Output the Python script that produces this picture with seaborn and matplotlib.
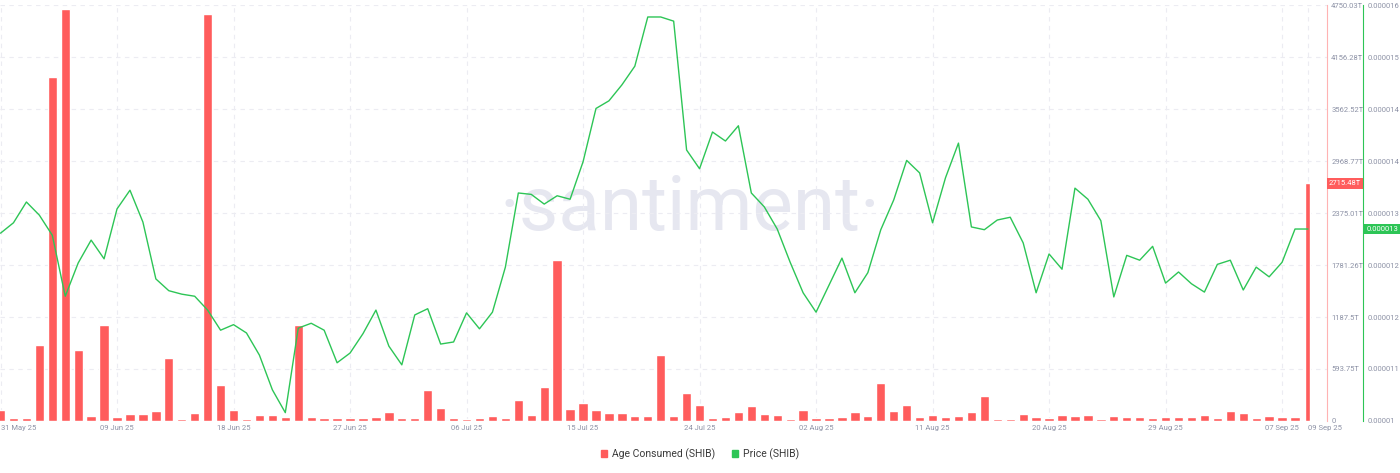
import numpy as np
import pandas as pd
import matplotlib
matplotlib.use("Agg")
import matplotlib.pyplot as plt
import matplotlib.dates as mdates
from matplotlib.patches import Patch
import seaborn as sns


# DATA

start_date = "2025-05-31"
end_date = "2025-09-09"

# Age Consumed (SHIB), trillions, one value per day
age_consumed = [
    125, 30, 30, 864, 3928, 4706, 810, 57, 1096, 46, 80, 80, 110, 723, 19, 88,
    4645, 411, 126, 19, 65, 65, 46, 1092, 42, 38, 34, 34, 30, 42, 103, 30, 38,
    350, 145, 38, 19, 34, 53, 34, 240, 65, 388, 1838, 141, 209, 122, 95, 88,
    57, 57, 757, 57, 316, 186, 34, 42, 103, 175, 84, 65, 23, 130, 34, 34, 42,
    103, 61, 434, 114, 183, 42, 69, 50, 61, 103, 280, 27, 19, 76, 42, 34, 65,
    53, 65, 27, 53, 42, 42, 38, 42, 42, 42, 65, 30, 110, 88, 30, 53, 42, 42,
    2715.48,
]

# Price (SHIB), USD
price = [
    12.71e-6, 12.86e-6, 13.16e-6, 12.97e-6, 12.68e-6, 11.80e-6, 12.28e-6, 12.61e-6,
    12.34e-6, 13.06e-6, 13.33e-6, 12.87e-6, 12.05e-6, 11.88e-6, 11.83e-6, 11.80e-6,
    11.60e-6, 11.31e-6, 11.39e-6, 11.27e-6, 10.95e-6, 10.45e-6, 10.12e-6, 11.34e-6,
    11.41e-6, 11.31e-6, 10.84e-6, 10.98e-6, 11.26e-6, 11.60e-6, 11.08e-6, 10.81e-6,
    11.53e-6, 11.62e-6, 11.11e-6, 11.14e-6, 11.56e-6, 11.33e-6, 11.57e-6, 12.22e-6,
    13.29e-6, 13.27e-6, 13.13e-6, 13.25e-6, 13.20e-6, 13.74e-6, 14.51e-6, 14.62e-6,
    14.85e-6, 15.12e-6, 15.83e-6, 15.83e-6, 15.77e-6, 13.91e-6, 13.64e-6, 14.17e-6,
    14.04e-6, 14.26e-6, 13.29e-6, 13.09e-6, 12.77e-6, 12.29e-6, 11.85e-6, 11.57e-6,
    11.96e-6, 12.35e-6, 11.85e-6, 12.14e-6, 12.76e-6, 13.19e-6, 13.76e-6, 13.58e-6,
    12.86e-6, 13.51e-6, 14.01e-6, 12.80e-6, 12.76e-6, 12.90e-6, 12.94e-6, 12.57e-6,
    11.85e-6, 12.41e-6, 12.19e-6, 13.36e-6, 13.20e-6, 12.89e-6, 11.79e-6, 12.39e-6,
    12.32e-6, 12.52e-6, 11.99e-6, 12.15e-6, 11.98e-6, 11.86e-6, 12.26e-6, 12.32e-6,
    11.89e-6, 12.22e-6, 12.08e-6, 12.29e-6, 12.77e-6, 12.77e-6,
]

x_tick_dates = [
    "2025-05-31", "2025-06-09", "2025-06-18", "2025-06-27", "2025-07-06",
    "2025-07-15", "2025-07-24", "2025-08-02", "2025-08-11", "2025-08-20",
    "2025-08-29", "2025-09-07", "2025-09-09",
]

age_max = 4750.03
age_tick_labels = ["0", "593.75T", "1187.5T", "1781.26T", "2375.01T",
                   "2968.77T", "3562.52T", "4156.28T", "4750.03T"]

price_min = 0.00001
price_max = 0.000016
price_tick_labels = ["0.00001", "0.000011", "0.000012", "0.000012", "0.000013",
                     "0.000014", "0.000014", "0.000015", "0.000016"]

last_age_label = "2715.48T"
last_price_label = "0.000013"


# STYLE

RED = "#ff5c5c"
RED_AXIS = "#ffb3b3"
GREEN = "#2dc556"
TICK_COLOR = "#8d92a6"
GRID_COLOR = "#ececf2"
TICK_SIZE = 5.5

sns.set_theme(style="white")
plt.rcParams['font.family'] = ['Roboto', 'DejaVu Sans']

dates = pd.date_range(start_date, end_date, freq="D")
df = pd.DataFrame({
    "day": mdates.date2num(dates),
    "age": age_consumed,
    "price": price,
})


# FIGURE

fig = plt.figure(figsize=(14, 4.73), dpi=100)
ax = fig.add_axes([0.0, 0.110, 1327 / 1400, 0.879])
ax2 = ax.twinx()

# watermark behind everything
fig.text(0.493, 1 - 230 / 473, "·santiment·", fontsize=55, color="#e6e7f0",
         ha="center", va="baseline", zorder=0)
ax.set_zorder(1)
ax2.set_zorder(2)
ax.patch.set_alpha(0)
ax2.patch.set_alpha(0)

sns.barplot(data=df, x="day", y="age", native_scale=True, width=0.72,
            color=RED, saturation=1, ax=ax, zorder=2)

# last day is a partial bar
last_bar = ax.patches[-1]
w = last_bar.get_width()
last_bar.set_x(last_bar.get_x() + w * 0.22)
last_bar.set_width(w * 0.45)

sns.lineplot(data=df, x="day", y="price", color=GREEN, linewidth=1.0, ax=ax2)

# X AXIS

x_ticks = mdates.date2num(pd.to_datetime(x_tick_dates))
ax.set_xlim(df["day"].iloc[0] - 0.04, df["day"].iloc[-1] + 1.47)
ax.set_xticks(x_ticks)
ax.set_xticklabels([pd.Timestamp(d).strftime("%d %b %y") for d in x_tick_dates])
ax.tick_params(axis="x", length=0, pad=3, labelsize=TICK_SIZE, labelcolor=TICK_COLOR)
ax.get_xticklabels()[0].set_horizontalalignment("left")
ax.get_xticklabels()[-1].set_horizontalalignment("left")
ax.set_xlabel("")

# AGE AXIS (inner right)

ax.set_ylim(0, age_max)
ax.set_yticks(np.linspace(0, age_max, len(age_tick_labels)))
ax.set_yticklabels(age_tick_labels)
ax.yaxis.tick_right()
ax.tick_params(axis="y", length=0, pad=3, labelsize=TICK_SIZE, labelcolor=TICK_COLOR)
ax.set_ylabel("")

ax.grid(True, linestyle=(0, (4, 4)), color=GRID_COLOR, linewidth=0.8)
ax.set_axisbelow(True)

for side in ["left", "top", "bottom"]:
    ax.spines[side].set_visible(False)
ax.spines["right"].set_color(RED_AXIS)
ax.spines["right"].set_linewidth(0.8)

# PRICE AXIS (outer right)

ax2.set_ylim(price_min, price_max)
ax2.set_yticks(np.linspace(price_min, price_max, len(price_tick_labels)))
ax2.set_yticklabels(price_tick_labels)
ax2.tick_params(axis="y", length=0, pad=3.5, labelsize=TICK_SIZE, labelcolor=TICK_COLOR)
ax2.set_ylabel("")
ax2.grid(False)
for side in ["left", "top", "bottom"]:
    ax2.spines[side].set_visible(False)
ax2.spines["right"].set_position(("outward", 26))
ax2.spines["right"].set_color(GREEN)
ax2.spines["right"].set_linewidth(0.8)

# LAST VALUE TAGS

ax.text(1.0015, age_consumed[-1], last_age_label, transform=ax.get_yaxis_transform(),
        fontsize=TICK_SIZE, color="white", ha="left", va="center", zorder=5,
        bbox=dict(boxstyle="square,pad=0.3", fc=RED, ec="none"))
ax2.text(1.0295, price[-1], last_price_label, transform=ax2.get_yaxis_transform(),
         fontsize=TICK_SIZE, color="white", ha="left", va="center", zorder=5,
         bbox=dict(boxstyle="square,pad=0.3", fc=GREEN, ec="none"), clip_on=False)

# LEGEND

handles = [Patch(color=RED, label="Age Consumed (SHIB)"),
           Patch(color=GREEN, label="Price (SHIB)")]
fig.legend(handles=handles, loc="center", bbox_to_anchor=(0.5, 0.04), ncol=2,
           frameon=False, fontsize=7.5, handlelength=0.6, handleheight=0.6,
           handletextpad=0.5, columnspacing=1.6, labelcolor="#3a3a3a")

fig.savefig("out.png", dpi=100)
